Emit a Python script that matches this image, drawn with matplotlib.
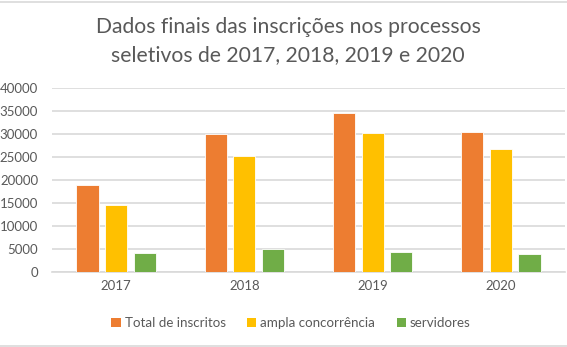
import matplotlib
matplotlib.use("Agg")
import matplotlib.pyplot as plt
from matplotlib.patches import Patch
from matplotlib.lines import Line2D
import numpy as np

plt.rcParams['font.family'] = ['Lato', 'DejaVu Sans']

years = ["2017", "2018", "2019", "2020"]
series_names = ["Total de inscritos", "ampla concorrência", "servidores"]
total = [18850, 30000, 34600, 30400]
ampla = [14450, 25100, 30100, 26600]
servidores = [4200, 4900, 4400, 3800]
colors = ["#ED7D31", "#FFC000", "#70AD47"]
title = "Dados finais das inscrições nos processos\nseletivos de 2017, 2018, 2019 e 2020"

fig = plt.figure(figsize=(5.67, 3.47), dpi=100)
ax = fig.add_axes([52/567, 1-272/347, 513/567, (272-87.7)/347])

x = np.arange(len(years))
w = 0.172
step = 0.223
for i, (vals, c) in enumerate(zip([total, ampla, servidores], colors)):
    ax.bar(x + (i-1)*step, vals, width=w, color=c, edgecolor="white", linewidth=0.6, zorder=3)

ax.set_xlim(-0.5, 3.5)
ax.set_ylim(0, 40000)
ax.set_yticks(range(0, 40001, 5000))
ax.set_xticks(x)
ax.set_xticklabels(years)
ax.grid(axis="y", color="#D9D9D9", linewidth=1.2, zorder=0)
for s in ["top", "right", "left"]:
    ax.spines[s].set_visible(False)
ax.spines["bottom"].set_color("#D9D9D9")
ax.spines["bottom"].set_linewidth(1.2)
ax.tick_params(axis="both", length=0, colors="#595959", labelsize=9.5)
ax.tick_params(axis="y", pad=10)
ax.tick_params(axis="x", pad=6)

fig.text(288/567, 1-41/347, title, ha="center", va="center", fontsize=15.2,
         color="#595959", linespacing=1.45)

handles = [Patch(facecolor=c, edgecolor="none") for c in colors]
fig.legend(handles, series_names, loc="center", bbox_to_anchor=(291/567, 1-323/347),
           ncol=3, frameon=False, fontsize=9.6, handlelength=0.7, handleheight=0.7,
           handletextpad=0.3, columnspacing=1.6, labelcolor="#595959")

fig.add_artist(Line2D([0, 1], [1-1.5/347, 1-1.5/347], color="#D9D9D9", linewidth=1.2))
fig.add_artist(Line2D([0, 1], [1-345.5/347, 1-345.5/347], color="#D9D9D9", linewidth=1.2))

fig.savefig("out.png", dpi=100)
